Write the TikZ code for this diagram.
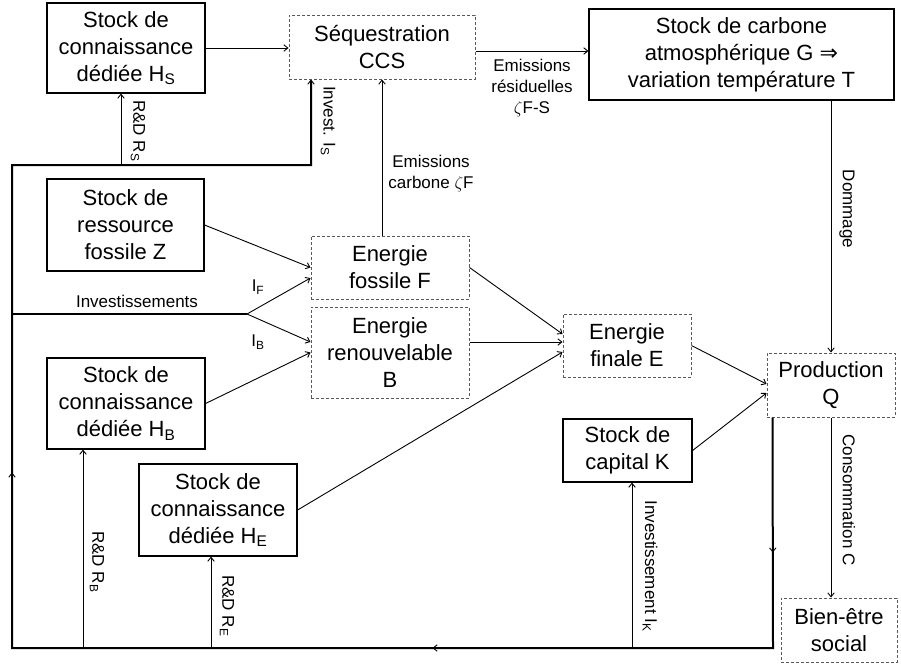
\documentclass[tikz,border=0pt]{standalone}
\usepackage{fontspec}
\setmainfont{Liberation Sans}
\newfontfamily\symfont{DejaVu Sans}
\usetikzlibrary{arrows.meta,decorations.markings,calc}
\begin{document}
\begin{tikzpicture}[x=1pt,y=-1pt,
  >={Straight Barb[length=4pt,width=6.5pt,line width=0.9pt]},
  solidbox/.style={draw=black, line width=1.2pt, align=center, inner sep=0pt, font=\fontsize{22}{27}\selectfont},
  dashbox/.style={draw=black!65, dash pattern=on 3pt off 2pt, line width=1pt, align=center, inner sep=0pt, font=\fontsize{22}{27}\selectfont},
  lbl/.style={font=\fontsize{17}{21}\selectfont, align=center, inner sep=0pt},
  vlbl/.style={lbl, rotate=-90},
  conn/.style={draw=black, line width=0.9pt, ->},
  flow/.style={draw=black, line width=2pt}
]
\useasboundingbox (0,0) rectangle (901,667);

% boxes
\node[solidbox, minimum width=158pt, minimum height=90pt] (HS) at (126,48) {Stock de\\connaissance\\dédiée H\textsubscript{S}};
\node[dashbox, minimum width=186pt, minimum height=64pt] (CCS) at (382,47) {Séquestration\\CCS};
\node[solidbox, minimum width=305pt, minimum height=91pt] (G) at (741.5,54.5) {Stock de carbone\\atmosphérique G {\symfont ⇒}\\variation température T};
\node[solidbox, minimum width=157pt, minimum height=92pt] (Z) at (125.5,225) {Stock de\\ressource\\fossile Z};
\node[dashbox, minimum width=158pt, minimum height=63pt] (F) at (390,267.5) {Energie\\fossile F};
\node[dashbox, minimum width=158pt, minimum height=91pt] (B) at (390,352.5) {Energie\\renouvelable\\B};
\node[dashbox, minimum width=128pt, minimum height=63pt] (E) at (627,345.5) {Energie\\finale E};
\node[solidbox, minimum width=158pt, minimum height=91pt] (HB) at (126,403.5) {Stock de\\connaissance\\dédiée H\textsubscript{B}};
\node[solidbox, minimum width=158pt, minimum height=92pt] (HE) at (218,510) {Stock de\\connaissance\\dédiée H\textsubscript{E}};
\node[solidbox, minimum width=129pt, minimum height=63pt] (K) at (627.5,450.5) {Stock de\\capital K};
\node[dashbox, minimum width=128pt, minimum height=64pt] (Q) at (831,385) {Production\\Q};
\node[dashbox, minimum width=116pt, minimum height=64pt] (W) at (839,630) {Bien-être\\social};

% loop coordinates
\coordinate (qo) at ($(Q.south west)+(6,0)$);
\coordinate (rb) at (773,648);
\coordinate (lb) at (12,648);
\coordinate (lt) at (12,165);
\coordinate (ct) at (311,165);
\coordinate (rs) at (121,165);
\coordinate (rbb) at (83,648);
\coordinate (rbe) at (211,648);
\coordinate (rik) at (632,648);
\coordinate (split) at (247,314);

% main feedback loop
\draw[flow, ->, postaction={decorate, decoration={markings,
    mark=at position 135pt with {\arrow{>}},
    mark=at position 571pt with {\arrow{>}},
    mark=at position 1167pt with {\arrow{>}}}}]
  (qo) -- (rb) -- (lb) -- (lt) -- (ct) -- (ct |- CCS.south);

% R&D branches
\draw[conn] (rs) -- (rs |- HS.south);
\draw[conn] (rbb) -- (rbb |- HB.south);
\draw[conn] (rbe) -- (rbe |- HE.south);
\draw[conn] (rik) -- (rik |- K.south);

% investments
\draw[flow] (lb |- split) -- (split);
\draw[conn] (split) -- ($(F.west)+(0,10.5)$);
\draw[conn] (split) -- ($(B.west)+(0,-10.5)$);

% flows between boxes
\draw[conn] (HS.east) -- (HS.east -| CCS.west);
\draw[conn] ($(CCS.east)+(0,4)$) -- ($(G.west)+(0,-3.5)$);
\draw[conn] (CCS.south |- F.north) -- (CCS.south);
\draw[conn] (Z.east) -- (F.west);
\draw[conn] (HB.east) -- (B.west);
\draw[conn] (F.east) -- ($(E.west)+(0,-11.5)$);
\draw[conn] ($(B.east)+(0,-10.5)$) -- ($(E.west)+(0,-3.5)$);
\draw[conn] (HE.east) -- ($(E.west)+(0,6.5)$);
\draw[conn] (E.east) -- ($(Q.west)+(0,-1)$);
\draw[conn] (K.east) -- ($(Q.west)+(0,8)$);
\draw[conn] (Q.north |- G.south) -- (Q.north);
\draw[conn] (Q.south) -- (Q.south |- W.north);

% labels
\node[lbl] (lres) at (532,88) {Emissions\\résiduelles\\$\zeta$F-S};
\node[lbl] (lcarb) at (431,174) {Emissions\\carbone $\zeta$F};
\node[vlbl] (linvs) at (328,121) {Invest. I\textsubscript{S}};
\node[vlbl] (lrds) at (138,131) {R\&D R\textsubscript{S}};
\node[vlbl] (ldom) at (847,209) {Dommage};
\node[lbl] (linv) at (137,301) {Investissements};
\node[lbl] (lif) at (258,287) {I\textsubscript{F}};
\node[lbl] (lib) at (258,342) {I\textsubscript{B}};
\node[vlbl] (lrdb) at (97,562) {R\&D R\textsubscript{B}};
\node[vlbl] (lrde) at (227,606) {R\&D R\textsubscript{E}};
\node[vlbl] (lik) at (650,566) {Investissement I\textsubscript{K}};
\node[vlbl] (lcons) at (849,500) {Consommation C};
\end{tikzpicture}
\end{document}
